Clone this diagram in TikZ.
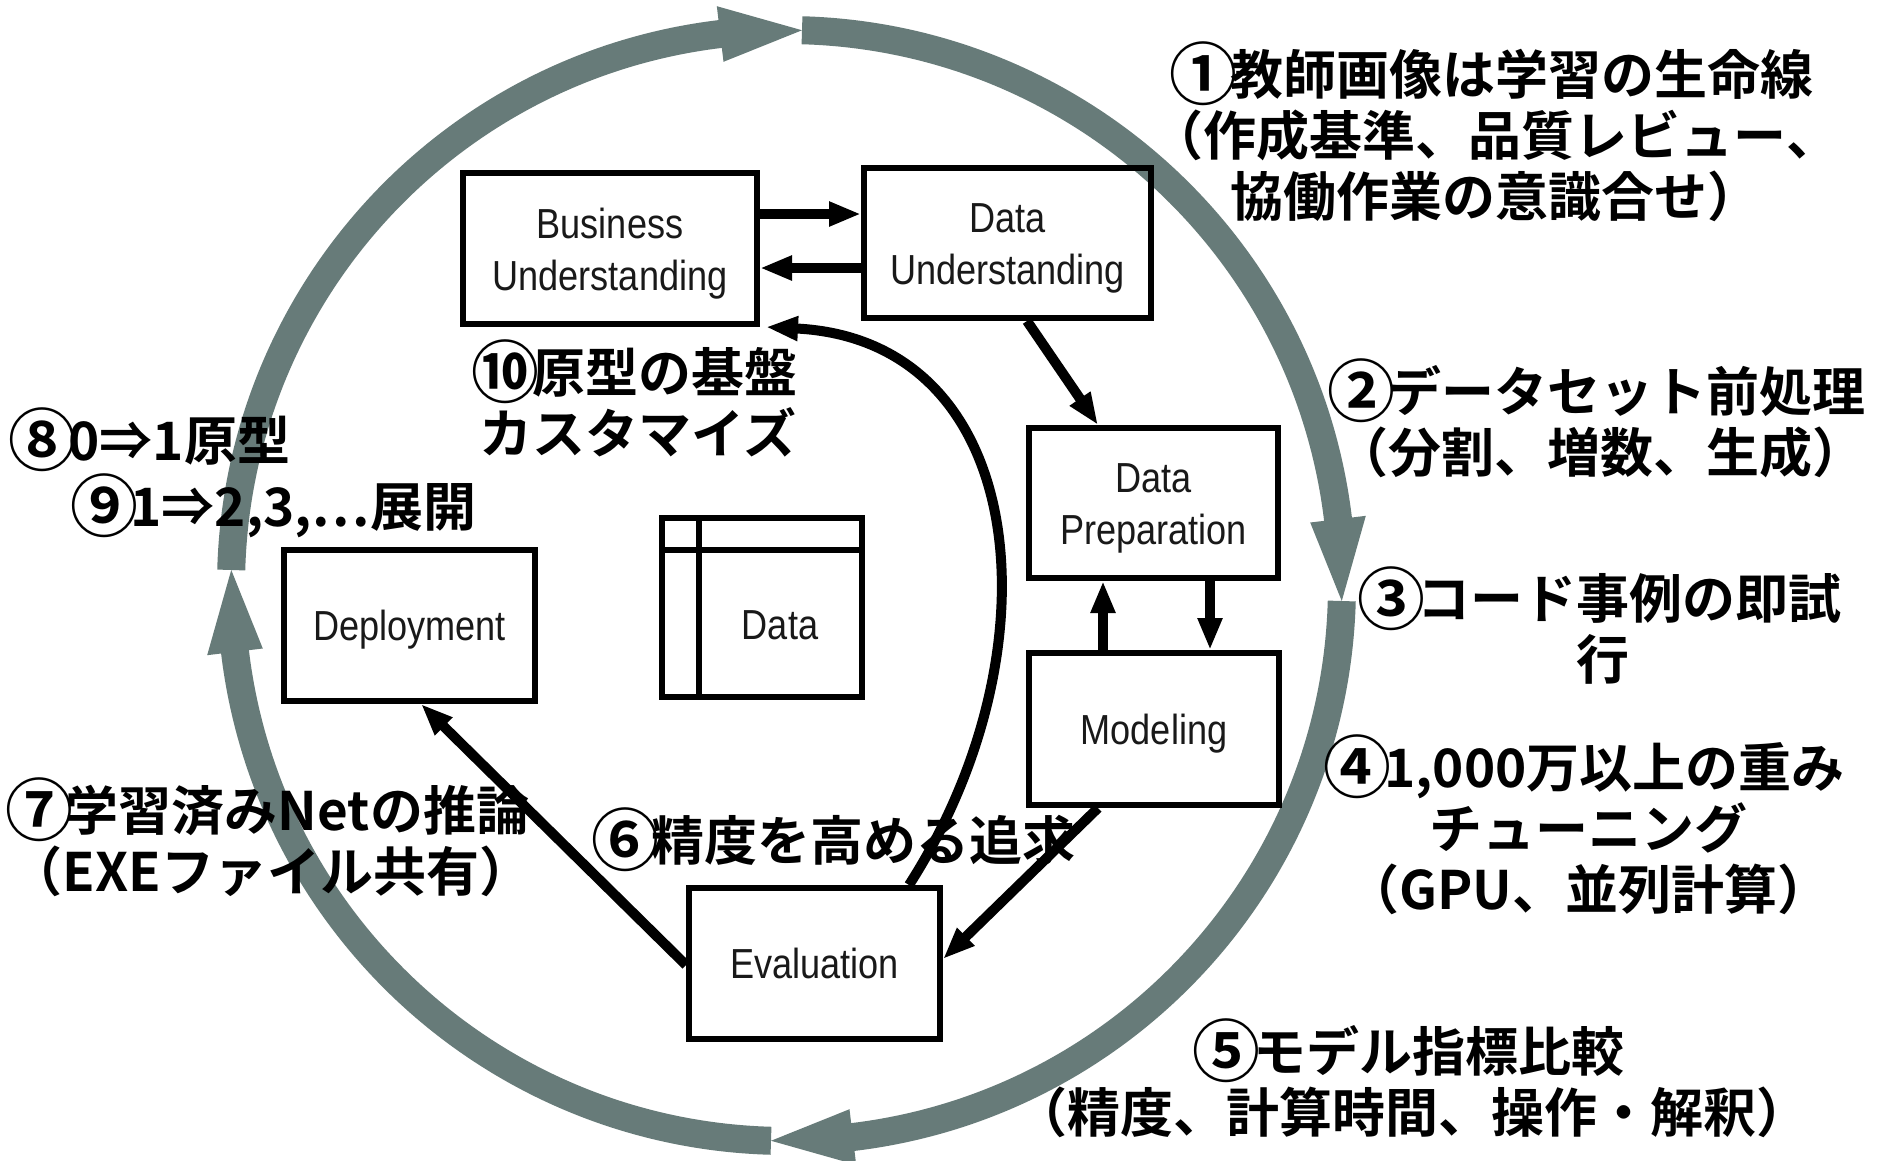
\documentclass[tikz,border=0pt]{standalone}
\usepackage{fontspec}
\usepackage{graphicx}
\setmainfont{Liberation Sans}
\newfontfamily\boxfont{Liberation Sans}[FakeStretch=0.86]
\newfontfamily\jp{Noto Sans CJK JP Bold}
\usetikzlibrary{arrows.meta,calc}
\definecolor{ringc}{RGB}{103,123,121}
\definecolor{boxtext}{RGB}{25,25,25}
\newcommand\cnum[1]{\makebox[1em]{\raisebox{-0.1em}{\scalebox{1.28}{#1}}}}
\begin{document}
\begin{tikzpicture}[x=1pt,y=-1pt,
  stage/.style={draw=black, line width=6pt, inner sep=0pt, text=boxtext,
    font=\boxfont\fontsize{42pt}{52pt}\selectfont},
  stagelbl/.style={align=center, inner sep=0pt, text=boxtext, yshift=-5pt,
    font=\boxfont\fontsize{42pt}{52pt}\selectfont},
  stagetext/.style={inner sep=0pt, text=boxtext, text depth=0pt, font=\boxfont\fontsize{42pt}{52pt}\selectfont},
  flow/.style={draw=black, line width=10pt, -{Triangle[length=32pt,width=23pt]}},
  jlabel/.style={align=center, inner sep=0pt, text=black, font=\jp\fontsize{53pt}{61pt}\selectfont},
  ringband/.style={draw=ringc, line width=28pt},
  ringhead/.style={fill=ringc}
]
\useasboundingbox (0,0) rectangle (1877,1160);
\fill[white] (0,0) rectangle (1877,1160);

% outer cycle ring
\coordinate (rc) at (786.5,585.5);
\foreach \s in {181.6,271.6,361.6,451.6} {
  \pgfmathsetmacro\e{\s+90}
  \pgfmathsetmacro\b{\e-8.46}
  \pgfmathsetmacro\bb{\b+0.4}
  \draw[ringband] ($(rc)+(\s:555.5)$) arc[start angle=\s, end angle=\bb, radius=555.5];
  \fill[ringhead] ($(rc)+(\b:527.5)$) -- ($(rc)+(\b:583.5)$) -- ($(rc)+(\e:555.5)$) -- cycle;
}

% stages
\node[stage, minimum width=294pt, minimum height=151pt,
  label={[stagelbl]center:Business\\Understanding}] (bu) at (610,248.5) {};
\node[stage, minimum width=287pt, minimum height=150pt,
  label={[stagelbl]center:Data\\Understanding}] (du) at (1007.5,243) {};
\node[stage, minimum width=249pt, minimum height=150pt,
  label={[stagelbl]center:Data\\Preparation}] (dp) at (1153.5,503) {};
\node[stage, text depth=0pt, minimum width=250pt, minimum height=152pt] (mo) at (1154,729) {Modeling};
\node[stage, text depth=0pt, minimum width=251pt, minimum height=151pt] (ev) at (814.5,963.5) {Evaluation};
\node[stage, text depth=0pt, minimum width=251pt, minimum height=151pt] (de) at (409.5,625.5) {Deployment};
\node[stage, minimum width=200pt, minimum height=179pt] (db) at (762,607.5) {};
\draw[line width=6pt] ([yshift=-35pt]db.north west) -- ([yshift=-35pt]db.north east);
\draw[line width=6pt] ([xshift=40pt]db.north west) -- ([xshift=40pt]db.south west);
\node[stagetext] (dbt) at (780,625) {Data};

% labels
\node[jlabel] (l1) at (1495,132) {\cnum{①}教師画像は学習の生命線\\（作成基準、品質レビュー、\\協働作業の意識合せ）};
\node[jlabel] (l2) at (1600,418) {\cnum{②}データセット前処理\\（分割、増数、生成）};
\node[jlabel] (l3) at (1603,625.5) {\cnum{③}コード事例の即試\\行};
\node[jlabel] (l4) at (1588,825) {\cnum{④}1,000万以上の重み\\チューニング\\（GPU、並列計算）};
\node[jlabel] (l5) at (1412,1078) {\cnum{⑤}モデル指標比較\\（精度、計算時間、操作・解釈）};
\node[jlabel] (l6) at (837,840) {\cnum{⑥}精度を高める追求};
\node[jlabel] (l7) at (271,837.5) {\cnum{⑦}学習済みNetの推論\\（EXEファイル共有）};
\node[jlabel] (l8) at (153,440) {\cnum{⑧}0⇒1原型};
\node[jlabel] (l9) at (277,506) {\cnum{⑨}1⇒2,3,…展開};
\node[jlabel] (l10) at (638,398.5) {\cnum{⑩}原型の基盤\\カスタマイズ};

% process arrows
\draw[flow] ([yshift=34.5pt]bu.east) -- ([yshift=29pt]du.west);
\draw[flow] ([yshift=-25pt]du.west) -- ([yshift=-19.5pt]bu.east);
\draw[flow] ([xshift=19.5pt]du.south) -- ([xshift=-55.5pt]dp.north);
\draw[flow] ([xshift=-51pt]mo.north) -- ([xshift=-50.5pt]dp.south);
\draw[flow] ([xshift=56.5pt]dp.south) -- ([xshift=56pt]mo.north);
\draw[flow] ([xshift=-56pt]mo.south) -- ([yshift=4.5pt]ev.east);
\draw[flow] ([yshift=-1.5pt]ev.west) -- ([xshift=11.5pt]de.south);
\draw[flow] ([xshift=94.5pt]ev.north) .. controls (1060,650) and (1030,340) .. ([xshift=6pt]bu.south east);
\end{tikzpicture}
\end{document}
